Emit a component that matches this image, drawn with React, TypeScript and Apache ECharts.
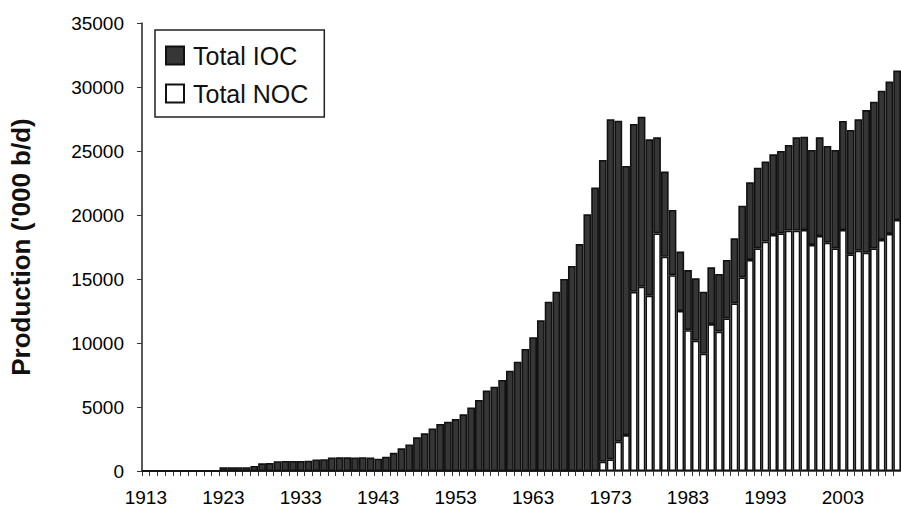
import React, { useEffect, useRef } from "react";
import * as echarts from "echarts";

const years: string[] = [];
for (let y = 1913; y <= 2010; y++) years.push(String(y));

// Total NOC production ('000 b/d), 1913-2010
const nocValues = [
  0, 0, 0, 0, 0, 0, 0, 0, 0, 0, // 1913-1922
  0, 0, 0, 0, 0, 0, 0, 0, 0, 0, // 1923-1932
  0, 0, 0, 0, 0, 0, 0, 0, 0, 0, // 1933-1942
  0, 0, 0, 0, 0, 0, 0, 0, 0, 0, // 1943-1952
  0, 0, 0, 0, 0, 0, 0, 0, 0, 0, // 1953-1962
  0, 0, 0, 0, 0, 0, 0, 0, 0, 730, // 1963-1972
  910, 2290, 2810, 14000, 14400, 13700, 18560, 16740, 15300, 12500, // 1973-1982
  11000, 10180, 9160, 11480, 10890, 11930, 13100, 15130, 16490, 17400, // 1983-1992
  17920, 18440, 18570, 18780, 18780, 18830, 17660, 18360, 17840, 17400, // 1993-2002
  18830, 16930, 17210, 17060, 17400, 18050, 18520, 19610, // 2003-2010
];

// Total IOC production ('000 b/d), 1913-2010
const iocValues = [
  0, 0, 0, 0, 0, 0, 0, 0, 0, 0, // 1913-1922
  290, 290, 300, 300, 390, 600, 620, 760, 780, 780, // 1923-1932
  780, 800, 900, 920, 1060, 1070, 1070, 1060, 1080, 1050, // 1933-1942
  960, 1120, 1420, 1770, 2080, 2630, 2940, 3330, 3670, 3850, // 1943-1952
  4060, 4430, 4970, 5550, 6280, 6590, 7110, 7840, 8540, 9530, // 1953-1962
  10450, 11770, 13230, 14010, 15000, 16020, 17730, 20050, 22140, 23570, // 1963-1972
  26570, 25080, 21020, 13110, 13280, 12210, 7510, 6650, 5090, 4640, // 1973-1982
  4700, 4870, 4850, 4430, 4510, 4560, 5080, 5600, 6060, 6300, // 1983-1992
  6250, 6300, 6430, 6690, 7290, 7290, 7420, 7710, 7550, 7680, // 1993-2002
  8520, 9710, 10270, 11140, 11450, 11660, 11900, 11670, // 2003-2010
];

const FONT = "'Liberation Sans', Arial, Helvetica, sans-serif";

export default function App() {
  const ref = useRef<HTMLDivElement>(null);

  useEffect(() => {
    if (!ref.current) return;
    const chart = echarts.init(ref.current, null, { renderer: "svg" });
    chart.setOption({
      animation: false,
      backgroundColor: "#ffffff",
      textStyle: { fontFamily: FONT },
      grid: { left: 142, right: 0, top: 23, bottom: 38, containLabel: false },
      legend: {
        orient: "vertical",
        left: 155,
        top: 30,
        data: ["Total IOC", "Total NOC"],
        icon: "rect",
        itemWidth: 18,
        itemHeight: 18,
        itemGap: 13,
        borderColor: "#222",
        borderWidth: 1.5,
        padding: [13, 16, 11, 10],
        textStyle: { fontSize: 25, fontFamily: FONT, color: "#111", padding: [0, 0, 0, 4] },
      },
      xAxis: {
        type: "category",
        data: years,
        boundaryGap: true,
        axisLine: { show: true, lineStyle: { color: "#222", width: 1.5 } },
        axisTick: { show: true, interval: 0, length: 5, lineStyle: { color: "#333" } },
        axisLabel: {
          interval: 9,
          fontSize: 19,
          color: "#000",
          fontFamily: FONT,
          margin: 17,
        },
      },
      yAxis: {
        type: "value",
        min: 0,
        max: 35000,
        interval: 5000,
        name: "Production ('000 b/d)",
        nameLocation: "middle",
        nameGap: 108,
        nameRotate: 90,
        nameTextStyle: { fontSize: 26, fontWeight: "bold", color: "#111", fontFamily: FONT },
        axisLine: { show: true, lineStyle: { color: "#222", width: 1.5 } },
        axisTick: { show: true, length: 5, lineStyle: { color: "#333" } },
        axisLabel: {
          fontSize: 19,
          color: "#000",
          fontFamily: FONT,
          margin: 18,
          formatter: (v: number) => String(v),
        },
        splitLine: { show: false },
      },
      series: [
        {
          name: "Total NOC",
          type: "bar",
          stack: "total",
          data: nocValues,
          barCategoryGap: "0%",
          itemStyle: { color: "#ffffff", borderColor: "#111", borderWidth: 1.6 },
        },
        {
          name: "Total IOC",
          type: "bar",
          stack: "total",
          data: iocValues,
          barCategoryGap: "0%",
          itemStyle: { color: "#363636", borderColor: "#111", borderWidth: 1.6 },
        },
      ],
    });
    return () => chart.dispose();
  }, []);

  return (
    <div
      ref={ref}
      style={{ position: "fixed", left: 0, top: 0, width: 901, height: 509 }}
    />
  );
}
